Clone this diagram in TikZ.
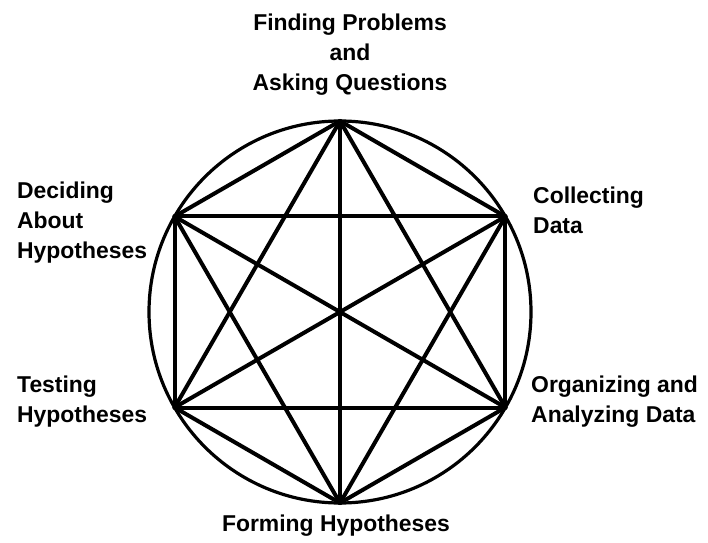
\documentclass[tikz,border=0pt]{standalone}
\usepackage{fontspec}
\setmainfont{Liberation Sans}

\begin{document}
\begin{tikzpicture}[x=1bp, y=-1bp,
    stage/.style={font=\bfseries\fontsize{23}{30}\selectfont, inner sep=0pt, align=left},
    chord/.style={line width=4bp, line cap=round},
    rim/.style={line width=3.2bp}]
  \useasboundingbox (0,0) rectangle (708,543);
  % Circle and its six points
  \coordinate (o) at (340,312);
  \draw[rim] (o) circle (191bp);
  \coordinate (find) at ([shift={(90:191bp)}]o);
  \coordinate (collect) at ([shift={(30:191bp)}]o);
  \coordinate (organize) at ([shift={(-30:191bp)}]o);
  \coordinate (form) at ([shift={(-90:191bp)}]o);
  \coordinate (test) at ([shift={(210:191bp)}]o);
  \coordinate (decide) at ([shift={(150:191bp)}]o);

  % Every point joined to every other
  \foreach \a/\b in {find/collect, find/organize, find/form, find/test, find/decide,
                     collect/organize, collect/form, collect/test, collect/decide,
                     organize/form, organize/test, organize/decide,
                     form/test, form/decide, test/decide}
    \draw[chord] (\a) -- (\b);

  % Labels
  \node[stage, align=center, anchor=north] (findlbl) at (350,14) {Finding Problems\\and\\Asking Questions};
  \node[stage, anchor=north west] (collectlbl) at (533,187) {Collecting\\Data};
  \node[stage, anchor=north west] (organizelbl) at (531,376) {Organizing and\\Analyzing Data};
  \node[stage, anchor=north] (formlbl) at (336,515) {Forming Hypotheses};
  \node[stage, anchor=north west] (testlbl) at (17,376) {Testing\\Hypotheses};
  \node[stage, anchor=north west] (decidelbl) at (17,182) {Deciding\\About\\Hypotheses};
\end{tikzpicture}
\end{document}
